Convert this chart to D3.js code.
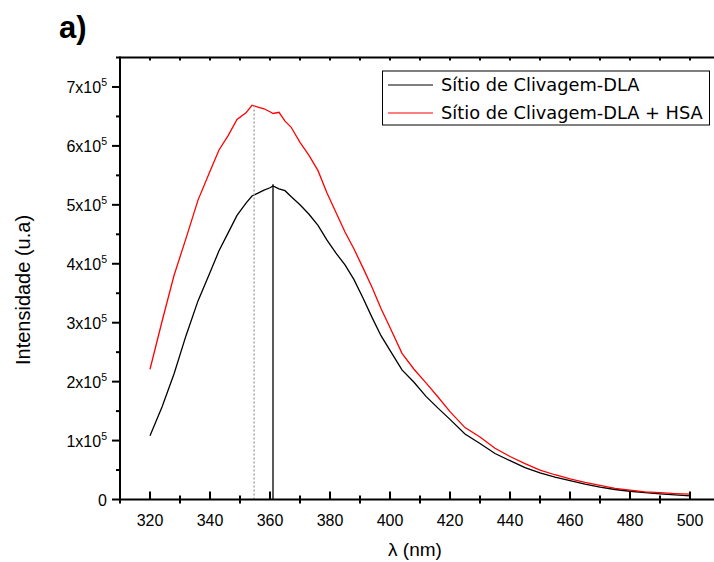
<!DOCTYPE html>
<html>
<head>
<meta charset="utf-8">
<script src="https://cdn.jsdelivr.net/npm/d3@7"></script>
<style>
  body { margin: 0; background: #fff; }
  svg { display: block; }
</style>
</head>
<body>
<svg id="chart" width="714" height="562"></svg>
<script>
// comprimentos de onda (nm)
var wavelength = [320, 324, 328, 332, 336, 340, 343, 346, 349, 352, 354, 356, 358, 360, 361,
  363, 365, 367, 370, 373, 376, 379, 382, 385, 388, 391, 394, 397, 400, 404, 408, 412, 416,
  420, 425, 430, 435, 440, 445, 450, 455, 460, 465, 470, 475, 480, 485, 490, 495, 500];

// Sítio de Clivagem-DLA (x10^5)
var dla = [1.08, 1.57, 2.13, 2.78, 3.37, 3.85, 4.22, 4.52, 4.82, 5.03, 5.15, 5.20, 5.25, 5.29, 5.32,
  5.27, 5.24, 5.14, 5.00, 4.84, 4.65, 4.40, 4.18, 3.98, 3.73, 3.42, 3.09, 2.78, 2.53, 2.20, 1.99, 1.75, 1.55,
  1.36, 1.11, 0.95, 0.78, 0.66, 0.54, 0.45, 0.38, 0.32, 0.26, 0.21, 0.17, 0.14, 0.115, 0.095, 0.08, 0.06];

// Sítio de Clivagem-DLA + HSA (x10^5)
var dlaHsa = [2.21, 3.02, 3.80, 4.43, 5.08, 5.57, 5.93, 6.17, 6.45, 6.56, 6.69, 6.66, 6.63, 6.58, 6.55,
  6.57, 6.42, 6.32, 6.06, 5.84, 5.58, 5.20, 4.87, 4.54, 4.25, 3.93, 3.60, 3.24, 2.92, 2.48, 2.21, 1.98, 1.74,
  1.49, 1.22, 1.06, 0.87, 0.73, 0.61, 0.50, 0.42, 0.35, 0.29, 0.24, 0.19, 0.16, 0.13, 0.115, 0.10, 0.09];

var seriesNames = ["Sítio de Clivagem-DLA", "Sítio de Clivagem-DLA + HSA"];
var seriesColors = ["#000000", "#ff0000"];

// linhas verticais dos máximos
var peakWl = [354.7, 361];
var peakVal = [6.69, 5.35];

var xMajor = [320, 340, 360, 380, 400, 420, 440, 460, 480, 500];
var yMajor = [0, 1, 2, 3, 4, 5, 6, 7];

var svg = d3.select("#chart");
var mLeft = 120, mRight = 720, mTop = 57.5, mBottom = 499.5;

var x = d3.scaleLinear().domain([310, 510]).range([mLeft, mRight]);
var y = d3.scaleLinear().domain([0, 7.5]).range([mBottom, mTop]);

var font = "'Liberation Sans', Arial, sans-serif";

// título
svg.append("text")
  .attr("x", 59).attr("y", 38)
  .attr("font-family", font)
  .attr("font-weight", "bold")
  .attr("font-size", 31)
  .text("a)");

// curvas
var series = [dla, dlaHsa];
var line = d3.line()
  .x(function (d, i) { return x(wavelength[i]); })
  .y(function (d) { return y(d); });

series.forEach(function (s, k) {
  svg.append("path")
    .datum(s)
    .attr("fill", "none")
    .attr("stroke", seriesColors[k])
    .attr("stroke-width", 1.3)
    .attr("d", line);
});

// marcadores dos picos
svg.append("line")
  .attr("x1", x(peakWl[0])).attr("x2", x(peakWl[0]))
  .attr("y1", y(0)).attr("y2", y(peakVal[0]))
  .attr("stroke", "#999")
  .attr("stroke-width", 1.3)
  .attr("stroke-dasharray", "2,2");
svg.append("line")
  .attr("x1", x(peakWl[1])).attr("x2", x(peakWl[1]))
  .attr("y1", y(0)).attr("y2", y(peakVal[1]))
  .attr("stroke", "#000")
  .attr("stroke-width", 1.3);

// eixos
var axes = svg.append("g").attr("stroke", "#000").attr("stroke-width", 2);
axes.append("line").attr("x1", mLeft - 1).attr("x2", mRight).attr("y1", mBottom).attr("y2", mBottom);
axes.append("line").attr("x1", mLeft).attr("x2", mRight).attr("y1", mTop).attr("y2", mTop);
axes.append("line").attr("x1", mLeft).attr("x2", mLeft).attr("y1", mTop - 1).attr("y2", mBottom + 1);

// ticks do eixo x
d3.range(310, 511, 10).forEach(function (v) {
  var major = xMajor.indexOf(v) >= 0;
  axes.append("line")
    .attr("x1", x(v)).attr("x2", x(v))
    .attr("y1", major ? mBottom - 8 : mBottom - 4)
    .attr("y2", major ? mBottom : mBottom + 4);
  axes.append("line")
    .attr("x1", x(v)).attr("x2", x(v))
    .attr("y1", mTop).attr("y2", mTop + 3);
});

// ticks do eixo y
d3.range(0, 7.6, 0.5).forEach(function (v) {
  var major = Math.abs(v - Math.round(v)) < 1e-6;
  axes.append("line")
    .attr("x1", major ? mLeft - 8 : mLeft - 4).attr("x2", mLeft)
    .attr("y1", y(v)).attr("y2", y(v));
});

svg.append("g")
  .selectAll("text")
  .data(xMajor)
  .join("text")
  .attr("x", function (d) { return x(d); })
  .attr("y", mBottom + 26)
  .attr("text-anchor", "middle")
  .attr("font-family", font)
  .attr("font-size", 16)
  .text(function (d) { return d; });

var yl = svg.append("g")
  .selectAll("text")
  .data(yMajor)
  .join("text")
  .attr("x", mLeft - 13)
  .attr("y", function (d) { return y(d) + 6; })
  .attr("text-anchor", "end")
  .attr("font-family", font)
  .attr("font-size", 16);
yl.each(function (d) {
  var t = d3.select(this);
  if (d === 0) { t.text("0"); return; }
  t.append("tspan").text(d + "x10");
  t.append("tspan").attr("dy", -7).attr("font-size", 10.5).text("5");
});

// títulos dos eixos
svg.append("text")
  .attr("x", 415).attr("y", 556)
  .attr("text-anchor", "middle")
  .attr("font-family", font)
  .attr("font-size", 19)
  .text("λ (nm)");

svg.append("text")
  .attr("transform", "translate(30,290) rotate(-90)")
  .attr("text-anchor", "middle")
  .attr("font-family", font)
  .attr("font-size", 20)
  .text("Intensidade (u.a)");

// legenda
var lg = svg.append("g");
lg.append("rect")
  .attr("x", 382.5).attr("y", 71)
  .attr("width", 327).attr("height", 54)
  .attr("fill", "#fff")
  .attr("stroke", "#000")
  .attr("stroke-width", 1);
seriesNames.forEach(function (name, k) {
  var ly = 85 + k * 28;
  lg.append("line")
    .attr("x1", 388).attr("x2", 433)
    .attr("y1", ly).attr("y2", ly)
    .attr("stroke", seriesColors[k])
    .attr("stroke-width", 1.2);
  lg.append("text")
    .attr("x", 441).attr("y", ly + 6)
    .attr("font-family", "'DejaVu Sans', Verdana, sans-serif")
    .attr("font-size", 17.8)
    .text(name);
});
</script>
</body>
</html>
